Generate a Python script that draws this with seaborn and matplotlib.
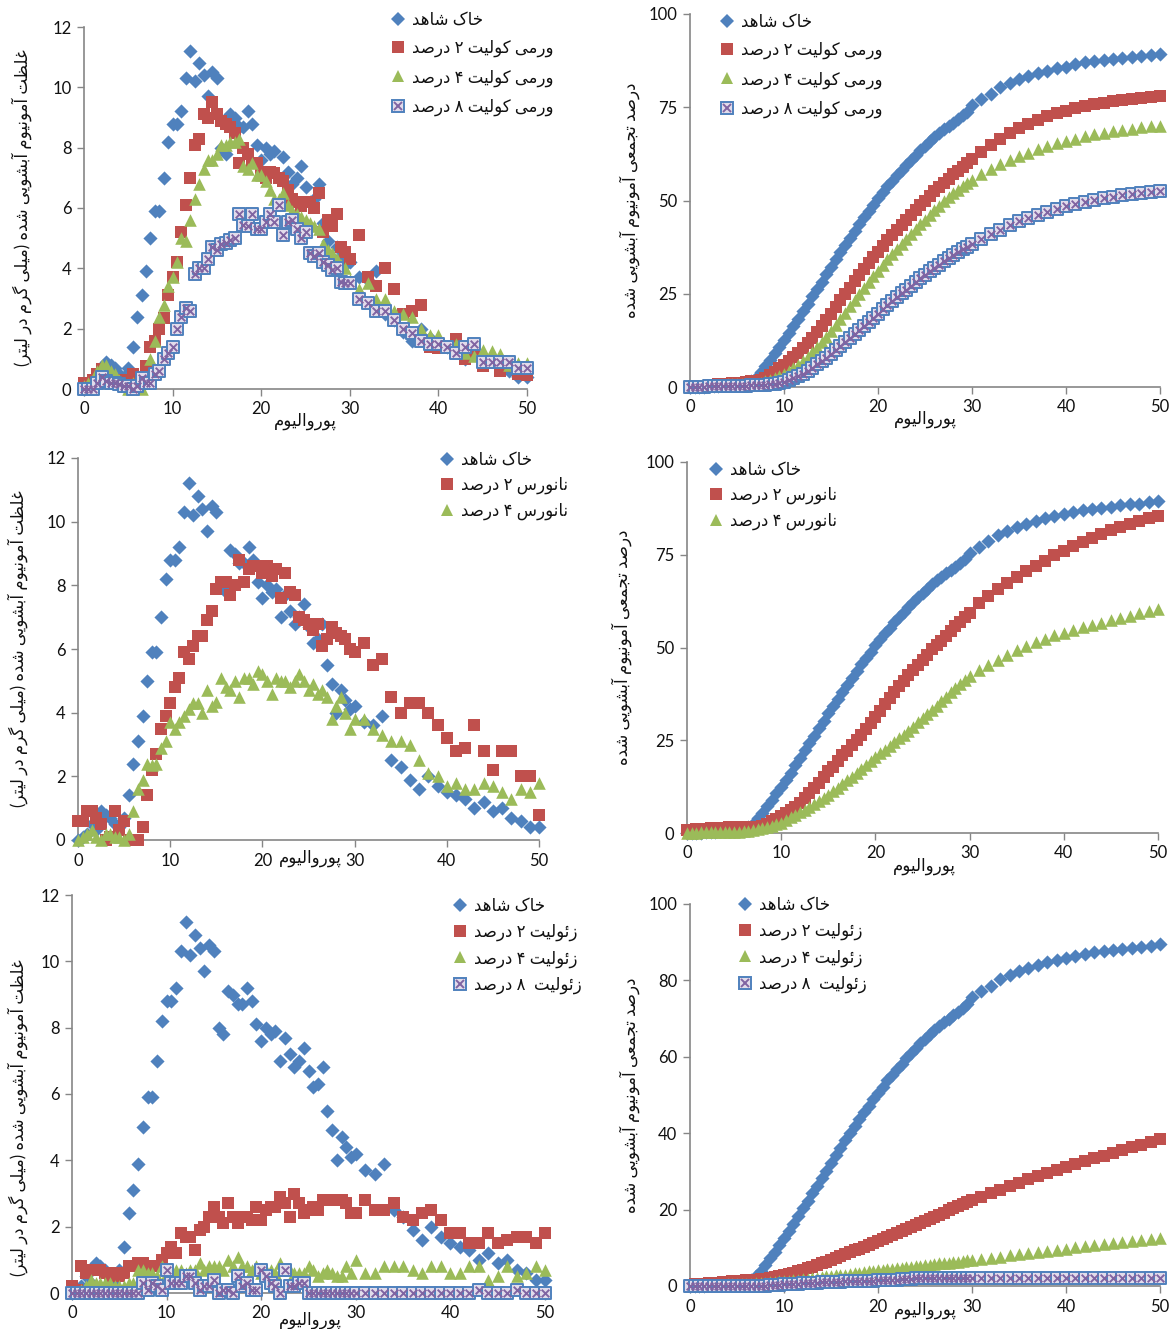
import numpy as np
import pandas as pd
import matplotlib
matplotlib.use("Agg")
import matplotlib.pyplot as plt
import seaborn as sns
from matplotlib.lines import Line2D
from matplotlib.legend_handler import HandlerTuple

# ---------------- data ----------------
# pore volumes: every 0.5 up to 30, then every 1 up to 50
PV = [i * 0.5 for i in range(61)] + list(range(31, 51))

# concentration (mg/L) - control soil (same in the three left panels)
conc_control = [0.0, 0.1, 0.2, 0.5, 0.3, 0.9, 0.8, 0.7, 0.5, 0.4,
                0.7, 1.4, 2.4, 3.1, 3.9, 5.0, 5.9, 5.9, 7.0, 8.2,
                8.8, 8.8, 9.2, 10.3, 11.2, 10.2, 10.8, 10.4, 9.7, 10.5,
                10.3, 8.0, 7.8, 9.1, 9.0, 8.7, 8.7, 9.2, 8.8, 8.1,
                7.6, 8.0, 7.8, 7.9, 7.0, 7.7, 7.2, 6.8, 7.0, 7.4,
                6.7, 6.2, 6.3, 6.8, 5.5, 4.9, 4.0, 4.7, 4.4, 4.1,
                4.2,
                3.7, 3.6, 3.9, 2.5, 2.3, 1.9, 1.6, 2.0, 1.7, 1.5,
                1.4, 1.3, 1.0, 1.2, 0.9, 1.0, 0.7, 0.6, 0.4, 0.4]

conc_verm2 = [0.2, 0.1, 0.3, 0.5, 0.65, 0.3, 0.3, 0.3, 0.2, 0.3,
              0.2, 0.5, 0.3, 0.2, 0.75, 1.4, 1.6, 2.0, 2.35, 3.1,
              3.7, 4.2, 5.2, 6.1, 7.0, 8.1, 8.3, 9.1, 9.0, 9.5,
              9.1, 8.9, 8.8, 8.7, 8.5, 7.5, 8.0, 7.8, 7.5, 7.5,
              7.2, 7.0, 7.2, 7.15, 7.0, 6.9, 6.6, 6.3, 6.2, 6.05,
              6.2, 6.2, 6.0, 6.5, 5.2, 5.6, 5.4, 5.8, 4.7, 4.55,
              4.3,
              5.1, 3.7, 3.4, 4.0, 3.3, 2.5, 2.6, 2.8, 1.4, 1.35,
              1.4, 1.65, 1.0, 1.2, 0.75, 0.85, 0.6, 0.75, 0.5, 0.45]

conc_verm4 = [0.1, 0.2, 0.3, 0.6, 0.8, 0.8, 0.6, 0.5, 0.3, 0.1,
              0.0, 0.2, 0.1, 0.0, 0.3, 1.0, 1.6, 2.4, 2.8, 3.4,
              3.7, 4.2, 5.0, 4.9, 5.6, 6.3, 6.8, 7.3, 7.6, 7.6,
              7.8, 8.1, 8.1, 8.2, 8.2, 8.3, 7.4, 7.3, 7.5, 7.1,
              7.1, 6.9, 6.6, 6.3, 6.3, 6.5, 6.1, 5.9, 5.8, 5.7,
              5.6, 5.5, 5.4, 5.3, 4.8, 4.6, 4.5, 4.3, 4.1, 4.0,
              3.6,
              3.3, 3.5, 3.0, 3.0, 2.6, 2.5, 2.4, 2.0, 1.8, 1.8,
              1.4, 1.5, 1.2, 1.1, 1.3, 1.25, 1.15, 0.8, 0.85, 0.85]

conc_verm8 = [0.0, 0.0, 0.0, 0.2, 0.4, 0.25, 0.2, 0.2, 0.15, 0.1,
              0.1, 0.0, 0.1, 0.35, 0.2, 0.2, 0.5, 0.6, 1.0, 1.2,
              1.4, 2.0, 2.4, 2.7, 2.6, 3.8, 4.0, 4.0, 4.3, 4.7,
              4.6, 4.8, 4.85, 4.95, 5.0, 5.8, 5.45, 5.4, 5.8, 5.3,
              5.3, 5.55, 5.8, 5.55, 6.1, 5.1, 5.55, 5.6, 5.3, 5.0,
              5.2, 4.5, 4.4, 4.5, 4.2, 4.1, 3.95, 4.0, 3.55, 3.5,
              3.5,
              3.0, 2.85, 2.6, 2.6, 2.3, 2.0, 1.85, 1.6, 1.5, 1.5,
              1.4, 1.2, 1.4, 1.5, 0.9, 0.9, 0.9, 0.9, 0.7, 0.7]

conc_nano2 = [0.6, 0.6, 0.9, 0.9, 0.7, 0.5, 0.0, 0.1, 0.9, 0.3,
              0.6, 0.0, 0.0, 0.0, 0.4, 1.4, 2.2, 2.7, 3.5, 3.9,
              4.3, 4.8, 5.1, 5.9, 5.7, 6.1, 6.4, 6.4, 6.9, 7.2,
              7.9, 8.1, 8.1, 7.7, 8.0, 8.8, 8.1, 8.5, 8.6, 8.6,
              8.4, 8.6, 8.3, 8.5, 7.6, 8.4, 7.8, 7.7, 7.0, 6.9,
              6.8, 6.6, 6.8, 6.1, 6.3, 6.7, 6.5, 6.4, 6.3, 6.0,
              5.9,
              6.2, 5.5, 5.7, 4.5, 4.0, 4.3, 4.3, 4.0, 3.6, 3.2,
              2.8, 2.9, 3.6, 2.8, 2.2, 2.8, 2.8, 2.0, 2.0, 0.8]

conc_nano4 = [0.0, 0.1, 0.2, 0.3, 0.1, 0.0, 0.2, 0.2, 0.1, 0.1,
              0.0, 0.2, 0.9, 1.6, 1.9, 2.4, 2.35, 2.4, 2.9, 3.1,
              3.7, 3.5, 3.7, 3.9, 4.1, 4.3, 4.3, 4.0, 4.7, 4.2,
              4.35, 5.1, 4.8, 4.7, 5.0, 4.5, 5.1, 5.1, 4.9, 5.3,
              5.2, 5.0, 4.6, 5.1, 5.0, 5.0, 4.8, 5.0, 5.2, 5.0,
              4.7, 4.9, 4.6, 4.7, 4.5, 3.8, 4.2, 4.5, 4.0, 3.5,
              3.8,
              3.8, 3.5, 3.3, 3.1, 3.1, 3.0, 2.5, 2.1, 2.0, 1.7,
              1.8, 1.6, 1.6, 1.8, 1.7, 1.5, 1.3, 1.6, 1.5, 1.8]

conc_zeo2 = [0.2, 0.1, 0.8, 0.6, 0.7, 0.7, 0.7, 0.6, 0.5, 0.6,
             0.5, 0.6, 0.8, 0.8, 0.9, 0.9, 0.8, 0.8, 0.8, 1.0,
             1.2, 1.4, 1.2, 1.8, 1.7, 1.7, 1.3, 1.9, 2.0, 2.3,
             2.6, 2.3, 2.1, 2.7, 2.3, 2.1, 2.3, 2.3, 2.2, 2.6,
             2.2, 2.5, 2.6, 2.6, 2.9, 2.7, 2.3, 3.0, 2.7, 2.4,
             2.5, 2.6, 2.5, 2.8, 2.8, 2.8, 2.8, 2.8, 2.7, 2.4,
             2.4,
             2.8, 2.5, 2.5, 2.7, 2.3, 2.2, 2.4, 2.5, 2.2, 1.8,
             1.8, 1.5, 1.5, 1.8, 1.5, 1.6, 1.7, 1.7, 1.5, 1.8]

conc_zeo4 = [0.0, 0.0, 0.1, 0.2, 0.4, 0.3, 0.3, 0.3, 0.3, 0.2,
             0.2, 0.2, 0.3, 0.3, 0.7, 0.7, 0.6, 0.6, 0.5, 0.8,
             0.6, 0.7, 0.7, 0.7, 0.6, 0.7, 0.7, 0.9, 0.7, 0.8,
             0.8, 0.8, 0.7, 1.0, 0.8, 1.1, 0.8, 0.8, 0.7, 0.8,
             0.6, 0.7, 0.7, 0.6, 0.9, 0.7, 0.7, 0.6, 0.6, 0.6,
             0.8, 0.7, 0.5, 0.6, 0.7, 0.6, 0.5, 0.5, 0.8, 0.6,
             1.0,
             0.6, 0.6, 0.8, 0.8, 0.8, 0.7, 0.6, 0.8, 0.8, 0.6,
             0.6, 0.8, 0.8, 0.4, 0.5, 0.8, 0.5, 0.6, 0.8, 0.7]

conc_zeo8 = [0.0, 0.0, 0.0, 0.0, 0.0, 0.0, 0.0, 0.0, 0.0, 0.0,
             0.0, 0.0, 0.0, 0.0, 0.0, 0.3, 0.1, 0.3, 0.2, 0.1,
             0.7, 0.3, 0.3, 0.3, 0.5, 0.5, 0.3, 0.1, 0.2, 0.2,
             0.4, 0.0, 0.1, 0.1, 0.0, 0.5, 0.2, 0.3, 0.1, 0.1,
             0.7, 0.5, 0.3, 0.2, 0.0, 0.7, 0.2, 0.2, 0.3, 0.3,
             0.0, 0.0, 0.0, 0.0, 0.0, 0.0, 0.0, 0.0, 0.0, 0.0,
             0.0,
             0.0, 0.0, 0.0, 0.0, 0.0, 0.0, 0.0, 0.0, 0.0, 0.0,
             0.0, 0.0, 0.1, 0.0, 0.0, 0.0, 0.1, 0.0, 0.0, 0.0]

# cumulative leached ammonium (%)
cum_control = [0.0, 0.0, 0.1, 0.1, 0.2, 0.3, 0.4, 0.5, 0.6, 0.7,
               0.8, 0.9, 1.0, 1.5, 2.5, 4.0, 5.5, 7.2, 9.0, 10.8,
               12.5, 14.4, 16.3, 18.3, 20.3, 22.3, 24.3, 26.2, 28.2, 30.2,
               32.3, 34.2, 36.2, 38.1, 40.0, 41.9, 43.7, 45.5, 47.2, 48.9,
               50.6, 52.2, 53.8, 55.3, 56.8, 58.2, 59.6, 60.9, 62.2, 63.5,
               64.7, 65.9, 67.0, 68.1, 69.1, 70.0, 70.9, 71.8, 72.8, 73.8,
               75.6,
               77.1, 78.6, 80.3, 81.4, 82.5, 83.3, 84.1, 84.8, 85.4, 85.9,
               86.5, 87.0, 87.4, 87.7, 88.0, 88.3, 88.6, 88.8, 89.1, 89.4]

cum_verm2 = [0.0, 0.1, 0.2, 0.4, 0.5, 0.6, 0.7, 0.8, 0.9, 1.0,
             1.1, 1.2, 1.3, 1.5, 1.7, 2.0, 2.5, 3.2, 4.0, 5.0,
             6.0, 7.0, 8.0, 9.2, 10.4, 11.8, 13.2, 14.7, 16.3, 18.0,
             19.7, 21.4, 23.2, 24.9, 26.6, 28.3, 30.0, 31.6, 33.2, 34.8,
             36.3, 37.8, 39.3, 40.7, 42.1, 43.5, 44.9, 46.2, 47.5, 48.8,
             50.0, 51.2, 52.5, 53.6, 54.7, 55.8, 57.0, 58.0, 59.0, 60.0,
             61.0,
             63.0, 64.8, 66.5, 68.0, 69.4, 70.6, 71.7, 72.6, 73.4, 74.1,
             74.7, 75.3, 75.8, 76.2, 76.6, 77.0, 77.3, 77.5, 77.7, 77.9]

cum_verm4 = [0.0, 0.0, 0.1, 0.2, 0.3, 0.4, 0.5, 0.6, 0.7, 0.7,
             0.7, 0.8, 0.8, 0.8, 0.9, 1.1, 1.5, 1.9, 2.4, 3.0,
             3.6, 4.3, 5.1, 6.0, 7.0, 8.1, 9.3, 10.6, 12.0, 13.5,
             15.0, 16.6, 18.3, 19.9, 21.6, 23.2, 24.9, 26.5, 28.1, 29.7,
             31.2, 32.7, 34.2, 35.6, 37.0, 38.3, 39.7, 41.0, 42.3, 43.6,
             44.9, 46.1, 47.4, 48.6, 49.8, 50.9, 51.9, 52.9, 53.9, 54.8,
             55.6,
             57.0, 58.4, 59.7, 60.8, 61.8, 62.8, 63.7, 64.5, 65.3, 66.0,
             66.6, 67.2, 67.7, 68.2, 68.6, 69.0, 69.3, 69.6, 69.9, 70.1]

cum_verm8 = [0.0, 0.0, 0.1, 0.1, 0.2, 0.2, 0.3, 0.3, 0.3, 0.4,
             0.4, 0.4, 0.4, 0.5, 0.5, 0.6, 0.6, 0.7, 0.9, 1.1,
             1.4, 1.8, 2.3, 2.9, 3.6, 4.4, 5.2, 6.1, 7.0, 7.9,
             8.9, 9.9, 11.0, 12.0, 13.1, 14.2, 15.3, 16.4, 17.5, 18.6,
             19.7, 20.8, 21.9, 23.0, 24.0, 25.1, 26.1, 27.1, 28.1, 29.1,
             30.1, 31.0, 31.9, 32.8, 33.7, 34.5, 35.3, 36.1, 36.9, 37.6,
             38.3,
             39.7, 41.0, 42.2, 43.3, 44.4, 45.3, 46.2, 47.0, 47.8, 48.5,
             49.1, 49.7, 50.2, 50.6, 51.0, 51.4, 51.7, 52.0, 52.2, 52.5]

cum_nano2 = [0.7, 0.9, 1.0, 1.1, 1.2, 1.3, 1.3, 1.4, 1.4, 1.5,
             1.5, 1.6, 1.6, 1.6, 1.6, 1.7, 2.0, 2.5, 3.1, 3.8,
             4.5, 5.3, 6.1, 7.0, 8.1, 9.4, 10.7, 12.1, 13.6, 15.2,
             16.6, 17.9, 19.4, 20.9, 22.2, 23.6, 25.0, 26.4, 28.0, 29.7,
             31.3, 33.0, 34.7, 36.4, 38.0, 39.6, 41.1, 42.5, 43.9, 45.3,
             46.7, 48.1, 49.5, 50.6, 51.8, 53.1, 54.4, 55.7, 57.0, 58.1,
             59.2,
             62.0, 64.0, 65.8, 67.5, 69.0, 70.5, 72.0, 73.4, 74.8, 76.1,
             77.3, 78.5, 79.6, 80.7, 81.7, 82.6, 83.4, 84.2, 84.8, 85.4]

cum_nano4 = [0.0, 0.0, 0.1, 0.2, 0.2, 0.2, 0.3, 0.3, 0.3, 0.4,
             0.4, 0.4, 0.5, 0.6, 0.8, 1.0, 1.3, 1.6, 2.0, 2.4,
             2.8, 3.5, 4.2, 4.9, 5.6, 6.3, 7.1, 7.9, 8.6, 9.4,
             10.3, 11.2, 12.2, 13.2, 14.2, 15.2, 16.2, 17.2, 18.2, 19.3,
             20.4, 21.5, 22.5, 23.5, 24.5, 25.5, 26.5, 27.5, 28.6, 29.8,
             30.9, 32.0, 33.2, 34.3, 35.5, 36.7, 37.9, 39.0, 40.1, 41.2,
             42.3,
             43.9, 45.3, 46.6, 48.0, 49.2, 50.4, 51.4, 52.4, 53.3, 54.0,
             54.7, 55.4, 56.1, 56.7, 57.4, 58.0, 58.6, 59.2, 59.8, 60.5]

cum_zeo2 = [0.3, 0.4, 0.5, 0.6, 0.7, 0.8, 0.9, 1.0, 1.1, 1.2,
            1.3, 1.4, 1.5, 1.6, 1.7, 1.8, 1.9, 2.1, 2.3, 2.5,
            2.8, 3.1, 3.4, 3.8, 4.2, 4.6, 5.0, 5.5, 6.0, 6.4,
            6.9, 7.4, 7.8, 8.3, 8.8, 9.3, 9.8, 10.3, 10.8, 11.3,
            11.8, 12.3, 12.8, 13.3, 13.8, 14.4, 14.9, 15.4, 15.9, 16.5,
            17.0, 17.6, 18.1, 18.7, 19.2, 19.8, 20.3, 20.9, 21.4, 22.0,
            22.5,
            23.3, 24.3, 25.2, 26.1, 27.0, 27.9, 28.7, 29.6, 30.4, 31.2,
            32.0, 32.7, 33.4, 34.1, 34.8, 35.6, 36.3, 37.0, 37.8, 38.6]

cum_zeo4 = [0.0, 0.0, 0.1, 0.1, 0.2, 0.2, 0.3, 0.3, 0.4, 0.4,
            0.5, 0.5, 0.6, 0.6, 0.7, 0.8, 0.9, 1.0, 1.1, 1.2,
            1.3, 1.4, 1.6, 1.7, 1.8, 1.9, 2.1, 2.2, 2.3, 2.5,
            2.6, 2.8, 2.9, 3.0, 3.2, 3.4, 3.5, 3.7, 3.8, 3.9,
            4.1, 4.2, 4.4, 4.5, 4.6, 4.8, 4.9, 5.1, 5.2, 5.3,
            5.5, 5.6, 5.7, 5.9, 6.0, 6.1, 6.3, 6.4, 6.5, 6.7,
            6.8,
            7.1, 7.4, 7.7, 8.0, 8.3, 8.6, 8.9, 9.2, 9.5, 9.8,
            10.1, 10.4, 10.7, 11.0, 11.2, 11.5, 11.8, 12.0, 12.3, 12.5]

cum_zeo8 = [0.0, 0.0, 0.0, 0.0, 0.0, 0.0, 0.0, 0.0, 0.0, 0.0,
            0.0, 0.0, 0.0, 0.0, 0.0, 0.1, 0.1, 0.2, 0.2, 0.3,
            0.4, 0.4, 0.5, 0.6, 0.7, 0.8, 0.9, 0.9, 1.0, 1.0,
            1.1, 1.1, 1.1, 1.2, 1.2, 1.3, 1.3, 1.4, 1.4, 1.4,
            1.6, 1.6, 1.7, 1.7, 1.7, 1.9, 1.9, 1.9, 2.0, 2.0,
            2.0, 2.0, 2.0, 2.0, 2.0, 2.0, 2.0, 2.0, 2.0, 2.0,
            2.0,
            2.0, 2.0, 2.0, 2.0, 2.0, 2.0, 2.0, 2.0, 2.0, 2.0,
            2.0, 2.0, 2.1, 2.1, 2.1, 2.1, 2.2, 2.2, 2.2, 2.2]

# text
lbl_control = "خاک شاهد"
lbl_verm = ["ورمی کولیت ۲ درصد", "ورمی کولیت ۴ درصد", "ورمی کولیت ۸ درصد"]
lbl_nano = ["نانورس ۲ درصد", "نانورس ۴ درصد"]
lbl_zeo = ["زئولیت ۲ درصد", "زئولیت ۴ درصد", "زئولیت  ۸ درصد"]
ylab_conc = "غلظت آمونیوم آبشویی شده (میلی گرم در لیتر)"
ylab_cum = "درصد تجمعی آمونیوم آبشویی شده"
xlab = "پورواليوم"

# ---------------- Persian shaping (matplotlib has no text shaping) ----------------
FORMS = {
    '\u0627': ('\uFE8D', '\uFE8E'), '\u0622': ('\uFE81', '\uFE82'),
    '\u062F': ('\uFEA9', '\uFEAA'), '\u0630': ('\uFEAB', '\uFEAC'),
    '\u0631': ('\uFEAD', '\uFEAE'), '\u0632': ('\uFEAF', '\uFEB0'),
    '\u0648': ('\uFEED', '\uFEEE'),
    '\u0628': ('\uFE8F', '\uFE90', '\uFE91', '\uFE92'),
    '\u067E': ('\uFB56', '\uFB57', '\uFB58', '\uFB59'),
    '\u062A': ('\uFE95', '\uFE96', '\uFE97', '\uFE98'),
    '\u062C': ('\uFE9D', '\uFE9E', '\uFE9F', '\uFEA0'),
    '\u062E': ('\uFEA5', '\uFEA6', '\uFEA7', '\uFEA8'),
    '\u0633': ('\uFEB1', '\uFEB2', '\uFEB3', '\uFEB4'),
    '\u0634': ('\uFEB5', '\uFEB6', '\uFEB7', '\uFEB8'),
    '\u0635': ('\uFEB9', '\uFEBA', '\uFEBB', '\uFEBC'),
    '\u0638': ('\uFEC5', '\uFEC6', '\uFEC7', '\uFEC8'),
    '\u0639': ('\uFEC9', '\uFECA', '\uFECB', '\uFECC'),
    '\u063A': ('\uFECD', '\uFECE', '\uFECF', '\uFED0'),
    '\u06A9': ('\uFB8E', '\uFB8F', '\uFB90', '\uFB91'),
    '\u0643': ('\uFED9', '\uFEDA', '\uFEDB', '\uFEDC'),
    '\u06AF': ('\uFB92', '\uFB93', '\uFB94', '\uFB95'),
    '\u0644': ('\uFEDD', '\uFEDE', '\uFEDF', '\uFEE0'),
    '\u0645': ('\uFEE1', '\uFEE2', '\uFEE3', '\uFEE4'),
    '\u0646': ('\uFEE5', '\uFEE6', '\uFEE7', '\uFEE8'),
    '\u0647': ('\uFEE9', '\uFEEA', '\uFEEB', '\uFEEC'),
    '\u06CC': ('\uFBFC', '\uFBFD', '\uFBFE', '\uFBFF'),
    '\u064A': ('\uFEF1', '\uFEF2', '\uFEF3', '\uFEF4'),
    '\u0626': ('\uFE89', '\uFE8A', '\uFE8B', '\uFE8C'),
}


def fa(text):
    out = []
    n = len(text)
    for i, ch in enumerate(text):
        if ch not in FORMS:
            out.append(ch)
            continue
        prev = text[i - 1] if i > 0 else None
        nxt = text[i + 1] if i + 1 < n else None
        jp = prev in FORMS and len(FORMS[prev]) == 4
        jn = len(FORMS[ch]) == 4 and nxt in FORMS
        f = FORMS[ch]
        if jp and jn:
            out.append(f[3])
        elif jp:
            out.append(f[1])
        elif jn:
            out.append(f[2])
        else:
            out.append(f[0])
    vis = ''.join(reversed(out))
    return vis.replace('(', '\0').replace(')', '(').replace('\0', ')')


# ---------------- style ----------------
sns.set_theme(style="white")
plt.rcParams['font.family'] = ['Lato', 'DejaVu Sans']

BLUE, RED, GREEN, PURPLE = "#4F81BD", "#C0504D", "#9BBB59", "#8064A2"
GRAY = "#868686"
TXT = "#111111"
W, H = 1175, 1329

fig = plt.figure(figsize=(W / 100, H / 100), dpi=100)


def rect(l, t, r, b):
    return [l / W, 1 - b / H, (r - l) / W, (b - t) / H]


panels = [
    dict(r=rect(84, 27, 527, 389), ymax=12, yt=[0, 2, 4, 6, 8, 10, 12],
         series=[conc_control, conc_verm2, conc_verm4, conc_verm8],
         labels=[lbl_control] + lbl_verm, ylab=ylab_conc,
         ylc=(-0.14, 0.50), xlc=(0.5, -0.088), leg=(390, 12, 0.72)),
    dict(r=rect(690, 14, 1160, 387), ymax=100, yt=[0, 25, 50, 75, 100],
         series=[cum_control, cum_verm2, cum_verm4, cum_verm8],
         labels=[lbl_control] + lbl_verm, ylab=ylab_cum,
         ylc=(-0.128, 0.50), xlc=(0.5, -0.088), leg=(719, 14, 0.72)),
    dict(r=rect(78, 458, 539, 840), ymax=12, yt=[0, 2, 4, 6, 8, 10, 12],
         series=[conc_control, conc_nano2, conc_nano4],
         labels=[lbl_control] + lbl_nano, ylab=ylab_conc,
         ylc=(-0.13, 0.50), xlc=(0.503, -0.047), leg=(439, 452, 0.52)),
    dict(r=rect(687, 462, 1158, 833), ymax=100, yt=[0, 25, 50, 75, 100],
         series=[cum_control, cum_nano2, cum_nano4],
         labels=[lbl_control] + lbl_nano, ylab=ylab_cum,
         ylc=(-0.138, 0.50), xlc=(0.505, -0.089), leg=(708, 462, 0.52)),
    dict(r=rect(72, 895, 545, 1293), ymax=12, yt=[0, 2, 4, 6, 8, 10, 12],
         series=[conc_control, conc_zeo2, conc_zeo4, conc_zeo8],
         labels=[lbl_control] + lbl_zeo, ylab=ylab_conc,
         ylc=(-0.114, 0.44), xlc=(0.503, -0.068), leg=(452, 898, 0.57)),
    dict(r=rect(690, 904, 1160, 1286), ymax=100, yt=[0, 20, 40, 60, 80, 100],
         series=[cum_control, cum_zeo2, cum_zeo4, cum_zeo8],
         labels=[lbl_control] + lbl_zeo, ylab=ylab_cum,
         ylc=(-0.128, 0.50), xlc=(0.5, -0.063), leg=(737, 897, 0.57)),
]

S_D, S_S, S_T, S_B, S_X = 52, 72, 82, 64, 30
FILL8 = "#E2DCEB"


def draw_series(ax, k, y):
    if k == 0:
        sns.scatterplot(x=PV, y=y, ax=ax, marker='D', color=BLUE, s=S_D,
                        linewidth=0, clip_on=False, zorder=3)
    elif k == 1:
        sns.scatterplot(x=PV, y=y, ax=ax, marker='s', color=RED, s=S_S,
                        linewidth=0, clip_on=False, zorder=4)
    elif k == 2:
        sns.scatterplot(x=PV, y=y, ax=ax, marker='^', color=GREEN, s=S_T,
                        linewidth=0, clip_on=False, zorder=5)
    else:
        sns.scatterplot(x=PV, y=y, ax=ax, marker='s', facecolor=FILL8,
                        edgecolor=BLUE, s=S_B, linewidth=1.4, clip_on=False, zorder=6)
        sns.scatterplot(x=PV, y=y, ax=ax, marker='x', color=PURPLE, s=S_X,
                        linewidth=1.4, clip_on=False, zorder=7)


def legend_handles(n):
    hs = [Line2D([], [], ls='none', marker='D', ms=np.sqrt(S_D), mfc=BLUE, mec=BLUE, mew=0),
          Line2D([], [], ls='none', marker='s', ms=np.sqrt(S_S), mfc=RED, mec=RED, mew=0),
          Line2D([], [], ls='none', marker='^', ms=np.sqrt(S_T), mfc=GREEN, mec=GREEN, mew=0),
          (Line2D([], [], ls='none', marker='s', ms=np.sqrt(S_B), mfc=FILL8, mec=BLUE, mew=1.4),
           Line2D([], [], ls='none', marker='x', ms=np.sqrt(S_X), mec=PURPLE, mew=1.4))]
    return hs[:n]


for p in panels:
    ax = fig.add_axes(p['r'])
    for k, y in enumerate(p['series']):
        draw_series(ax, k, y)
    ax.set_xlim(0, 50)
    ax.set_ylim(0, p['ymax'])
    ax.set_xticks([0, 10, 20, 30, 40, 50])
    ax.set_yticks(p['yt'])
    for s in ['top', 'right']:
        ax.spines[s].set_visible(False)
    for s in ['left', 'bottom']:
        ax.spines[s].set_color(GRAY)
        ax.spines[s].set_linewidth(1.2)
    ax.tick_params(axis='both', which='major', bottom=True, left=True, direction='out',
                   length=5, width=1, color=GRAY, labelsize=12, labelcolor=TXT, pad=4)
    ax.set_xlabel(fa(xlab), fontsize=12, color=TXT)
    ax.xaxis.set_label_coords(*p['xlc'])
    ax.xaxis.label.set_va('center')
    ax.set_ylabel(fa(p['ylab']), fontsize=12, color=TXT, rotation=90)
    ax.yaxis.set_label_coords(*p['ylc'])
    ax.yaxis.label.set_va('center')
    lx, ty, lsp = p['leg']
    n = len(p['series'])
    ax.legend(legend_handles(n), [fa(t) for t in p['labels']], loc='upper left',
              bbox_to_anchor=(lx / W, 1 - ty / H), bbox_transform=fig.transFigure,
              frameon=False, borderpad=0, borderaxespad=0, handlelength=1.0,
              handletextpad=0.3, labelspacing=lsp, prop={'size': 12},
              labelcolor=TXT, handler_map={tuple: HandlerTuple(ndivide=1)})

fig.savefig("out.png", dpi=100)
